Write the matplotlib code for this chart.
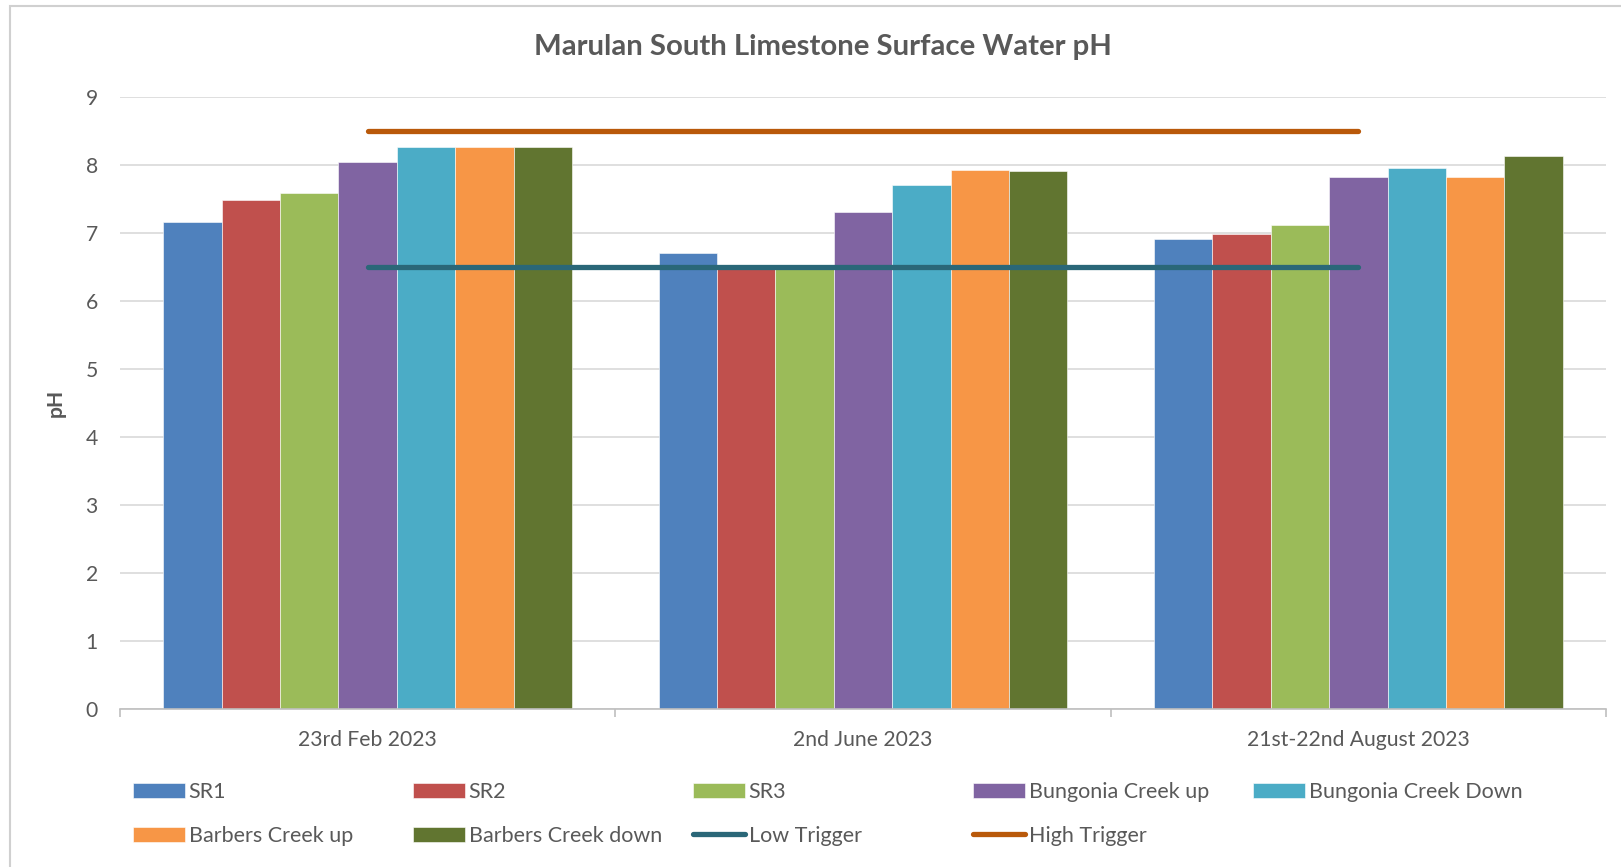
import numpy as np
import matplotlib
matplotlib.use("Agg")
import matplotlib.pyplot as plt
from matplotlib.patches import Rectangle, Patch
from matplotlib.lines import Line2D

plt.rcParams['font.family'] = ['Lato', 'DejaVu Sans']

# data
tanggal = ["23rd Feb 2023", "2nd June 2023", "21st-22nd August 2023"]
sr1 = [7.16, 6.71, 6.91]
sr2 = [7.48, 6.50, 6.99]
sr3 = [7.59, 6.50, 7.12]
bungonia_up = [8.04, 7.31, 7.83]
bungonia_down = [8.26, 7.70, 7.96]
barbers_up = [8.26, 7.93, 7.83]
barbers_down = [8.26, 7.91, 8.13]
low_trigger = [6.5, 6.5, 6.5]
high_trigger = [8.5, 8.5, 8.5]

seri_nama = ["SR1", "SR2", "SR3", "Bungonia Creek up", "Bungonia Creek Down",
             "Barbers Creek up", "Barbers Creek down"]
seri_nilai = [sr1, sr2, sr3, bungonia_up, bungonia_down, barbers_up, barbers_down]
warna = ["#4F81BD", "#C0504D", "#9BBB59", "#8064A2", "#4BACC6", "#F79646", "#617530"]
warna_low = "#2A6778"
warna_high = "#B9590A"
abu = "#595959"

fig = plt.figure(figsize=(16.21, 8.67), dpi=100)
ax = fig.add_axes([120/1621, 1-709/867, (1606-120)/1621, (709-97)/867])

x = np.arange(len(tanggal))
lebar_grup = 0.825
lebar = lebar_grup / len(seri_nama)
for i, (nama, nilai) in enumerate(zip(seri_nama, seri_nilai)):
    posisi = x - lebar_grup/2 + lebar*(i + 0.5)
    ax.bar(posisi, nilai, width=lebar, color=warna[i], edgecolor='white',
           linewidth=0.4, zorder=2)

ax.plot(x, low_trigger, color=warna_low, lw=3.8, solid_capstyle='round', zorder=3)
ax.plot(x, high_trigger, color=warna_high, lw=3.8, solid_capstyle='round', zorder=3)

ax.set_xlim(-0.5, 2.5)
ax.set_ylim(0, 9)
ax.set_yticks(range(10))
ax.yaxis.grid(True, color='#D9D9D9', lw=1.2, zorder=0)
ax.set_axisbelow(True)
for s in ['left', 'right', 'top']:
    ax.spines[s].set_visible(False)
ax.spines['bottom'].set_color('#BFBFBF')
ax.spines['bottom'].set_linewidth(1.2)

ax.set_xticks(x)
ax.set_xticklabels(tanggal)
ax.set_xticks([-0.5, 0.5, 1.5, 2.5], minor=True)
ax.tick_params(axis='x', which='major', length=0, pad=15, labelsize=15.2, labelcolor=abu)
ax.tick_params(axis='x', which='minor', length=6, color='#BFBFBF', width=1.2)
ax.tick_params(axis='y', length=0, pad=16, labelsize=15.2, labelcolor=abu)

ax.set_ylabel("pH", fontsize=15.2, fontweight='bold', color=abu, labelpad=14)
fig.text(823/1621, 1-47/867, "Marulan South Limestone Surface Water pH",
         ha='center', va='center', fontsize=21.2, fontweight='bold', color=abu)

# legend, diisi per baris seperti Excel
handles = [Patch(facecolor=c, edgecolor='white', lw=0.4) for c in warna]
handles += [Line2D([], [], color=warna_low, lw=3.8, solid_capstyle='round'),
            Line2D([], [], color=warna_high, lw=3.8, solid_capstyle='round')]
labels = seri_nama + ["Low Trigger", "High Trigger"]
for i, (h, l) in enumerate(zip(handles, labels)):
    kolom = i % 5
    baris = i // 5
    xx = (124 + 280*kolom) / 1621
    yy = 1 - (792 + 44*baris) / 867
    fig.legend([h], [l], loc='center left', bbox_to_anchor=(xx, yy),
               frameon=False, fontsize=15.5, handlelength=2.45, handleheight=0.75,
               handletextpad=0.15, labelcolor=abu, borderaxespad=0)

fig.patches.append(Rectangle((10/1621, -0.1), 1.2, 1.1 - 6/867, transform=fig.transFigure,
                             fill=False, edgecolor='#D0D0D0', lw=1.5))

fig.savefig("out.png", dpi=100)
